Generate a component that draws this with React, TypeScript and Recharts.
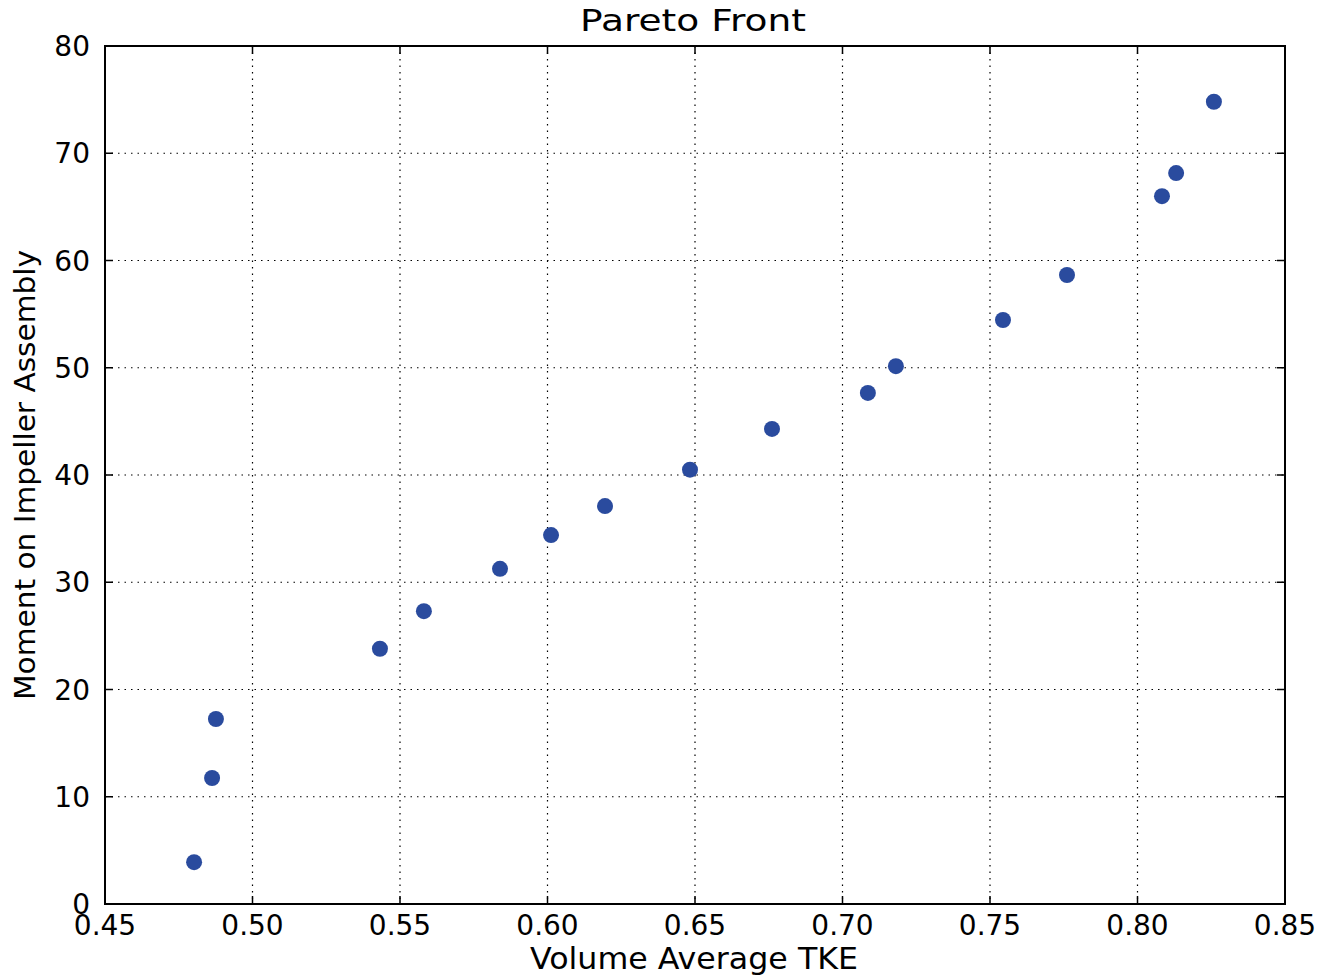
import React from 'react';
import {
  ScatterChart,
  Scatter,
  XAxis,
  YAxis,
  CartesianGrid,
  ReferenceArea,
} from 'recharts';

const tkeValues = [
  0.4802, 0.4863, 0.4876, 0.5432, 0.5581, 0.5839, 0.6012, 0.6195, 0.6483,
  0.6761, 0.7086, 0.7181, 0.7544, 0.7761, 0.8083, 0.8131, 0.8259,
];
const momentValues = [
  3.9, 11.75, 17.25, 23.8, 27.3, 31.25, 34.4, 37.1, 40.5, 44.3, 47.65, 50.15,
  54.45, 58.65, 66.0, 68.15, 74.8,
];
const xTicks = [0.45, 0.5, 0.55, 0.6, 0.65, 0.7, 0.75, 0.8, 0.85];
const yTicks = [0, 10, 20, 30, 40, 50, 60, 70, 80];

const WIDTH = 1329;
const HEIGHT = 975;
const PLOT_LEFT = 105;
const PLOT_TOP = 46;
const PLOT_RIGHT = 1285;
const PLOT_BOTTOM = 904;
const PLOT_W = PLOT_RIGHT - PLOT_LEFT;
const PLOT_H = PLOT_BOTTOM - PLOT_TOP;
const FONT = '"DejaVu Sans", sans-serif';
const TICK_LEN = 8;
const TICK_GAP = 10;

const data = tkeValues.map((x, i) => ({ x, y: momentValues[i] }));

function XTick(props: any) {
  const { x, y, payload } = props;
  const axisY = y - TICK_GAP;
  return (
    <g>
      <line x1={x} x2={x} y1={axisY} y2={axisY - TICK_LEN} stroke="#000" strokeWidth={1.5} />
      <line x1={x} x2={x} y1={axisY - PLOT_H} y2={axisY - PLOT_H + TICK_LEN} stroke="#000" strokeWidth={1.5} />
      <text x={x} y={y} dy="0.75em" textAnchor="middle" fontSize={28} fontFamily={FONT} fill="#000">
        {payload.value.toFixed(2)}
      </text>
    </g>
  );
}

function YTick(props: any) {
  const { x, y, payload } = props;
  const axisX = x + TICK_GAP;
  return (
    <g>
      <line x1={axisX} x2={axisX + TICK_LEN} y1={y} y2={y} stroke="#000" strokeWidth={1.5} />
      <line x1={axisX + PLOT_W} x2={axisX + PLOT_W - TICK_LEN} y1={y} y2={y} stroke="#000" strokeWidth={1.5} />
      <text x={x - 5} y={y} dy="0.36em" textAnchor="end" fontSize={28} fontFamily={FONT} fill="#000">
        {payload.value}
      </text>
    </g>
  );
}

function Dot(props: any) {
  const { cx, cy } = props;
  return <circle cx={cx} cy={cy} r={8} fill="#2a4b9e" />;
}

export default function App() {
  const midY = (PLOT_TOP + PLOT_BOTTOM) / 2;
  return (
    <div style={{ position: 'absolute', left: 0, top: 0, width: WIDTH, height: HEIGHT, background: '#fff' }}>
      <ScatterChart
        width={WIDTH}
        height={HEIGHT}
        margin={{ top: PLOT_TOP, right: WIDTH - PLOT_RIGHT, bottom: 0, left: 5 }}
      >
        <CartesianGrid stroke="#000" strokeWidth={1.2} strokeDasharray="1.5 5" />
        <XAxis
          type="number"
          dataKey="x"
          domain={[0.45, 0.85]}
          ticks={xTicks}
          interval={0}
          allowDataOverflow
          height={HEIGHT - PLOT_BOTTOM}
          axisLine={false}
          tickLine={false}
          tickSize={0}
          tickMargin={TICK_GAP}
          tick={<XTick />}
        />
        <YAxis
          type="number"
          dataKey="y"
          domain={[0, 80]}
          ticks={yTicks}
          interval={0}
          allowDataOverflow
          width={PLOT_LEFT - 5}
          axisLine={false}
          tickLine={false}
          tickSize={0}
          tickMargin={TICK_GAP}
          tick={<YTick />}
        />
        <ReferenceArea x1={0.45} x2={0.85} y1={0} y2={80} fill="none" stroke="#000" strokeWidth={2} ifOverflow="visible" />
        <Scatter data={data} shape={<Dot />} isAnimationActive={false} />
        <text
          x={693}
          y={20}
          dy="0.36em"
          textAnchor="middle"
          fontSize={31}
          fontFamily={FONT}
          fill="#000"
          textLength={226}
          lengthAdjust="spacingAndGlyphs"
        >
          Pareto Front
        </text>
        <text
          x={694}
          y={958}
          dy="0.36em"
          textAnchor="middle"
          fontSize={30}
          fontFamily={FONT}
          fill="#000"
          textLength={328}
          lengthAdjust="spacingAndGlyphs"
        >
          Volume Average TKE
        </text>
        <text
          x={25}
          y={midY}
          dy="0.36em"
          textAnchor="middle"
          fontSize={29}
          fontFamily={FONT}
          fill="#000"
          textLength={450}
          lengthAdjust="spacingAndGlyphs"
          transform={`rotate(-90 25 ${midY})`}
        >
          Moment on Impeller Assembly
        </text>
      </ScatterChart>
    </div>
  );
}
